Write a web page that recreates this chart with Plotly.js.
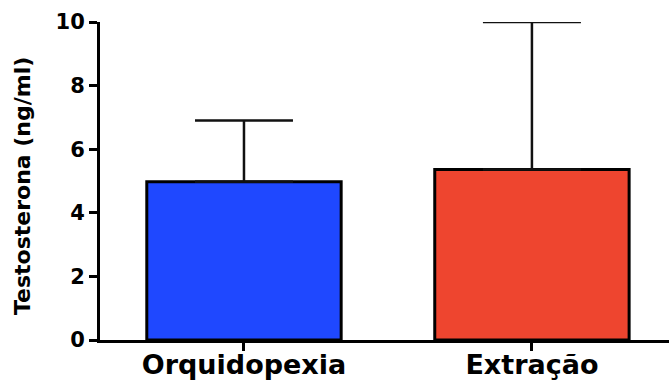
<!DOCTYPE html>
<html>
<head>
<meta charset="utf-8">
<script src="https://cdn.plot.ly/plotly-3.0.1.min.js"></script>
<style>html,body{margin:0;padding:0;background:#fff;}#chart{width:669px;height:380px;}</style>
</head>
<body>
<div id="chart"></div>
<script>
const categories = ["Orquidopexia", "Extração"];
const means = [4.98, 5.36];
const errUpper = [1.92, 4.64];
const barColors = ["#1f48ff", "#ee452f"];
const yTickVals = [0, 2, 4, 6, 8, 10];
const yTitle = "Testosterona (ng/ml)";

const trace = {
  type: "bar",
  x: categories,
  y: means,
  width: 0.675,
  cliponaxis: false,
  marker: { color: barColors, line: { color: "#000", width: 3 } },
  error_y: {
    type: "data",
    symmetric: false,
    array: errUpper,
    arrayminus: [0, 0],
    color: "#111",
    thickness: 2.5,
    width: 49
  },
  hoverinfo: "none"
};

const layout = {
  width: 669, height: 380,
  margin: { l: 100, r: 0, t: 22, b: 40 },
  paper_bgcolor: "#fff", plot_bgcolor: "#fff",
  showlegend: false,
  font: { family: "DejaVu Sans", color: "#000" },
  xaxis: {
    type: "category",
    range: [-0.5, 1.476],
    showline: true, linecolor: "#000", linewidth: 3,
    ticks: "outside", ticklen: 8, tickwidth: 3, tickcolor: "#000",
    ticklabelstandoff: -9,
    tickfont: { family: "DejaVu Sans", size: 27, weight: "bold", color: "#000" },
    showgrid: false, zeroline: false, fixedrange: true
  },
  yaxis: {
    range: [0, 10],
    tickvals: yTickVals,
    ticktext: yTickVals.map(String),
    showline: true, linecolor: "#000", linewidth: 3,
    ticks: "outside", ticklen: 8, tickwidth: 3, tickcolor: "#000",
    tickfont: { family: "DejaVu Sans", size: 21, weight: "bold", color: "#000" },
    showgrid: false, zeroline: false, fixedrange: true
  },
  annotations: [{
    text: yTitle,
    xref: "paper", yref: "paper",
    x: 0, y: 0.484,
    xshift: -78,
    xanchor: "center", yanchor: "middle",
    textangle: -90,
    showarrow: false,
    font: { family: "DejaVu Sans", size: 22, weight: "bold", color: "#000" }
  }]
};

Plotly.newPlot("chart", [trace], layout, { staticPlot: true, displayModeBar: false });
</script>
</body>
</html>
